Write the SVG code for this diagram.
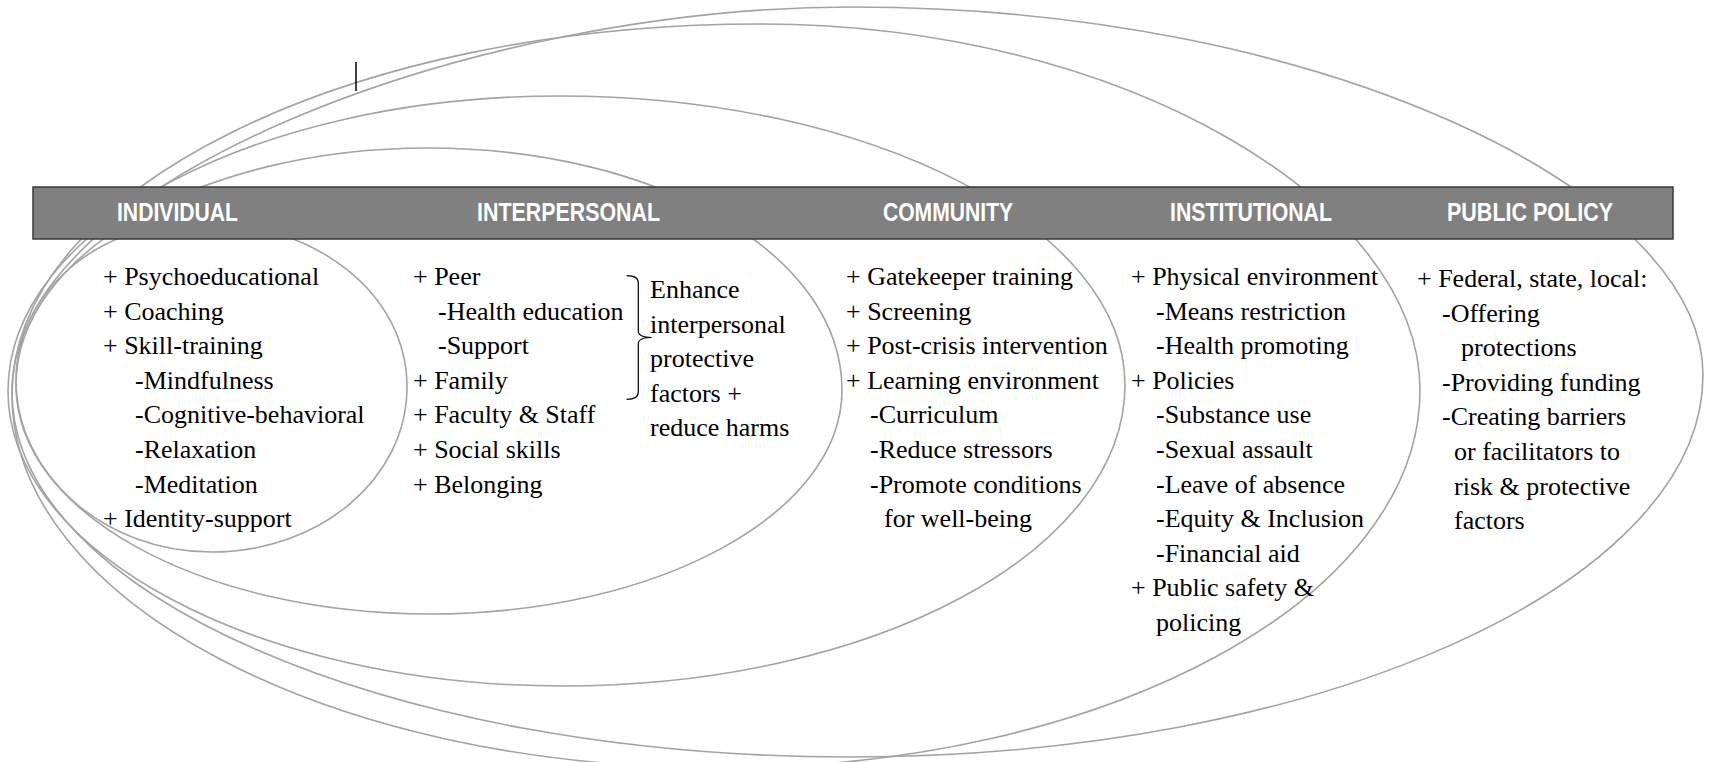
<svg xmlns="http://www.w3.org/2000/svg" width="1711" height="762" viewBox="0 0 1711 762">
<style>
.ring{fill:none;stroke:#a3a3a3;stroke-width:1.6}
.t{font-family:"Liberation Serif",Tinos,"Times New Roman","DejaVu Serif",serif;font-size:26px;fill:#000}
.h{font-family:"Liberation Sans",Arimo,Arial,sans-serif;font-size:25px;font-weight:bold;fill:#fff}
.bar{fill:#808080;stroke:#3a3a3a;stroke-width:1.5}
</style>
<rect width="1711" height="762" fill="#fff"/>
<g id="connectors">
<path id="ring-public-policy" class="ring" d="M12 392 C12 179.4 472.4 7 853 7 C1322.5 7 1703 192.5 1703 375 C1703 584 1319 757 850 757 C387.2 757 12 593.6 12 392 Z"/>
<path id="ring-institutional" class="ring" d="M12 395 C12 190.1 346.9 24 760 24 C1124.5 24 1420 204 1420 390 C1420 598.8 1106.6 768 720 768 C328.9 768 12 601 12 395 Z"/>
<path id="ring-community" class="ring" d="M8 391 C8 228 254.9 96 560 96 C872 96 1125 228 1125 385 C1125 551.2 874.6 686 563 686 C256.1 686 8 551.5 8 391 Z"/>
<path id="ring-interpersonal" class="ring" d="M16 385 C16 254.1 200.5 148 428 148 C656.6 148 842 253.4 842 390 C842 513 659.1 614 430 614 C202.5 614 16 513.4 16 385 Z"/>
<path id="ring-individual" class="ring" d="M16 380 C16 292.7 97.8 222 200 222 C314.3 222 407 292.7 407 387 C407 478.4 320 552 212 552 C103.8 552 16 474.4 16 380 Z"/>
</g>
<g id="header">
<rect class="bar" x="33" y="187" width="1640" height="52"/>
<text class="h" x="117" y="221" textLength="121" lengthAdjust="spacingAndGlyphs">INDIVIDUAL</text>
<text class="h" x="477" y="221" textLength="183" lengthAdjust="spacingAndGlyphs">INTERPERSONAL</text>
<text class="h" x="883" y="221" textLength="130" lengthAdjust="spacingAndGlyphs">COMMUNITY</text>
<text class="h" x="1170" y="221" textLength="162" lengthAdjust="spacingAndGlyphs">INSTITUTIONAL</text>
<text class="h" x="1447" y="221" textLength="166" lengthAdjust="spacingAndGlyphs">PUBLIC POLICY</text>
</g>
<g id="individual">
<text class="t" x="103" y="285">+ Psychoeducational</text>
<text class="t" x="103" y="319.6">+ Coaching</text>
<text class="t" x="103" y="354.2">+ Skill-training</text>
<text class="t" x="135" y="388.8">-Mindfulness</text>
<text class="t" x="135" y="423.4">-Cognitive-behavioral</text>
<text class="t" x="135" y="458">-Relaxation</text>
<text class="t" x="135" y="492.6">-Meditation</text>
<text class="t" x="103" y="527.2">+ Identity-support</text>
</g>
<g id="interpersonal">
<text class="t" x="413" y="285">+ Peer</text>
<text class="t" x="438" y="319.6">-Health education</text>
<text class="t" x="438" y="354.2">-Support</text>
<text class="t" x="413" y="388.8">+ Family</text>
<text class="t" x="413" y="423.4">+ Faculty &amp; Staff</text>
<text class="t" x="413" y="458">+ Social skills</text>
<text class="t" x="413" y="492.6">+ Belonging</text>
<path d="M626.7 275.7 Q638.3 275.7 638.3 283 L638.3 331 Q638.3 337.5 651.7 337.5 Q638.3 337.5 638.3 344 L638.3 392 Q638.3 399.3 626.7 399.3" fill="none" stroke="#000" stroke-width="1.2"/>
<text class="t" x="650" y="298.3">Enhance</text>
<text class="t" x="650" y="332.8">interpersonal</text>
<text class="t" x="650" y="367.3">protective</text>
<text class="t" x="650" y="401.8">factors +</text>
<text class="t" x="650" y="436.4">reduce harms</text>
</g>
<g id="community">
<text class="t" x="846" y="285">+ Gatekeeper training</text>
<text class="t" x="846" y="319.6">+ Screening</text>
<text class="t" x="846" y="354.2">+ Post-crisis intervention</text>
<text class="t" x="846" y="388.8">+ Learning environment</text>
<text class="t" x="870" y="423.4">-Curriculum</text>
<text class="t" x="870" y="458">-Reduce stressors</text>
<text class="t" x="870" y="492.6">-Promote conditions</text>
<text class="t" x="884" y="527.2">for well-being</text>
</g>
<g id="institutional">
<text class="t" x="1131" y="285">+ Physical environment</text>
<text class="t" x="1156" y="319.6">-Means restriction</text>
<text class="t" x="1156" y="354.2">-Health promoting</text>
<text class="t" x="1131" y="388.8">+ Policies</text>
<text class="t" x="1156" y="423.4">-Substance use</text>
<text class="t" x="1156" y="458">-Sexual assault</text>
<text class="t" x="1156" y="492.6">-Leave of absence</text>
<text class="t" x="1156" y="527.2">-Equity &amp; Inclusion</text>
<text class="t" x="1156" y="561.8">-Financial aid</text>
<text class="t" x="1131" y="596.4">+ Public safety &amp;</text>
<text class="t" x="1156" y="631">policing</text>
</g>
<g id="public-policy">
<text class="t" x="1417" y="287">+ Federal, state, local:</text>
<text class="t" x="1442" y="321.6">-Offering</text>
<text class="t" x="1461" y="356.2">protections</text>
<text class="t" x="1442" y="390.8">-Providing funding</text>
<text class="t" x="1442" y="425.4">-Creating barriers</text>
<text class="t" x="1454" y="460">or facilitators to</text>
<text class="t" x="1454" y="494.6">risk &amp; protective</text>
<text class="t" x="1454" y="529.2">factors</text>
</g>
<line x1="356" y1="62" x2="356" y2="91" stroke="#000" stroke-width="1.5"/>
</svg>
